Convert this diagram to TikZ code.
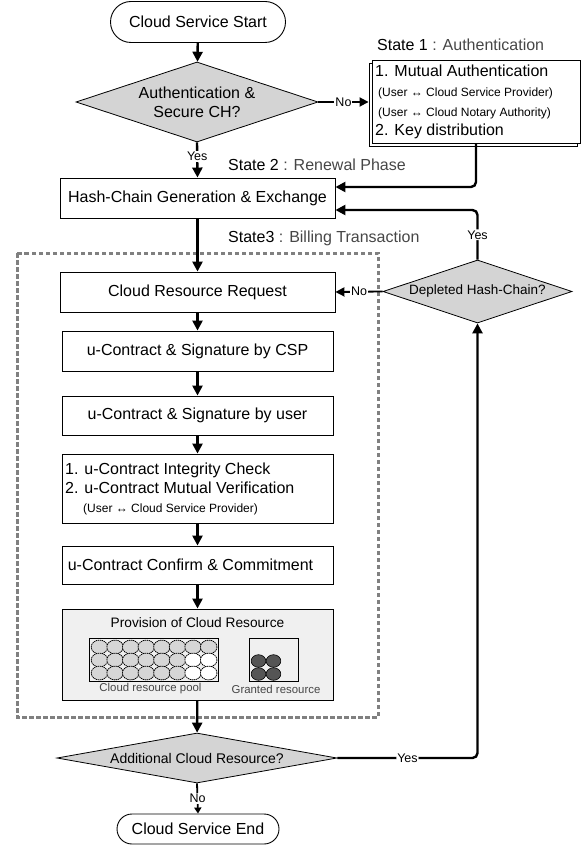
\documentclass[tikz,border=0pt]{standalone}
\usepackage{fontspec}
\setmainfont{Liberation Sans}
\usetikzlibrary{shapes.geometric,shapes.misc,arrows.meta}

\definecolor{decfill}{RGB}{212,212,212}
\definecolor{provfill}{RGB}{240,240,240}
\definecolor{cellgray}{RGB}{214,214,214}
\definecolor{granted}{RGB}{85,85,85}
\definecolor{billing}{RGB}{128,128,128}
\definecolor{phasegray}{RGB}{70,70,70}

\newcommand{\fsz}[2]{\fontsize{#1}{#2}\selectfont}

\tikzset{
  box/.style={draw, line width=0.9pt, minimum width=271, minimum height=40,
    inner sep=2pt, font=\fsz{16}{19}},
  term/.style={draw, rounded rectangle, line width=0.9pt, inner sep=2pt, font=\fsz{16}{19}},
  decision/.style={draw, diamond, fill=decfill, line width=0.8pt, inner sep=0pt, align=center},
  flow/.style={line width=2.4pt, -{Triangle[length=10pt,width=10pt]}},
  flowthin/.style={line width=1.8pt, -{Triangle[length=9pt,width=9pt]}},
  flowsmall/.style={line width=1.8pt, -{Triangle[length=6pt,width=7pt]}},
  lbl/.style={fill=white, inner sep=1pt, font=\fsz{12.5}{14}},
  phase/.style={anchor=west, inner sep=0pt, font=\fsz{16}{19}},
  txt/.style={anchor=west, inner sep=0pt, font=\fsz{16}{19}},
  smalltxt/.style={anchor=west, inner sep=0pt, font=\fsz{12}{14}},
  cell/.style={draw, line width=0.8pt, dash pattern=on 1.3pt off 0.7pt},
  grantcell/.style={draw, line width=0.6pt, fill=granted},
  caption/.style={inner sep=0pt, text=phasegray, font=\fsz{11.4}{13}},
}

\begin{document}
\begin{tikzpicture}[x=1pt, y=-1pt]
\useasboundingbox (0,0) rectangle (581,845);

% billing transaction frame
\draw[billing, line width=3pt, dash pattern=on 4.5pt off 2.5pt]
  (17,253) rectangle (378,717);

% terminators and decisions
\node[term, minimum width=179, minimum height=41] (start) at (198,22) {Cloud Service Start};
\node[decision, shape aspect=3.025, minimum width=242, minimum height=80, font=\fsz{16}{19}]
  (auth) at (197,102) {Authentication \&\\Secure CH?};

% state 1 box with offset outline
\node[draw, fill=white, line width=0.9pt, minimum width=208, minimum height=83, inner sep=0pt]
  (s1shadow) at (473,104.5) {};
\node[draw, fill=white, line width=0.9pt, minimum width=208, minimum height=83, inner sep=0pt]
  (s1) at (476,101.5) {};
\node[txt] (s1a) at (375,71) {1. Mutual Authentication};
\node[smalltxt] (s1b) at (378,93) {(User ↔ Cloud Service Provider)};
\node[smalltxt] (s1c) at (378,113) {(User ↔ Cloud Notary Authority)};
\node[txt] (s1d) at (375,131) {2. Key distribution};

% phase titles
\node[phase] (t1) at (377,45) {State 1 \textcolor{phasegray}{: Authentication}};
\node[phase] (t2) at (228,165) {State 2 \textcolor{phasegray}{: Renewal Phase}};
\node[phase] (t3) at (228,238) {State3 \textcolor{phasegray}{: Billing Transaction}};

% process boxes
\node[box, minimum width=275] (hash) at (197.5,198) {Hash-Chain Generation \& Exchange};
\node[box, minimum width=275] (crr) at (197.5,292) {Cloud Resource Request};
\node[box] (csp) at (197.5,351) {u-Contract \& Signature by CSP};
\node[box, minimum height=39] (usr) at (197.5,415.5) {u-Contract \& Signature by user};
\node[box, minimum height=69] (integ) at (197.5,488.5) {};
\node[txt] (ia) at (65,470) {1. u-Contract Integrity Check};
\node[txt] (ib) at (65,488) {2. u-Contract Mutual Verification};
\node[smalltxt] (ic) at (83,509) {(User ↔ Cloud Service Provider)};
\node[box, minimum height=38] (confirm) at (197.5,565) {\hspace*{-14pt}u-Contract Confirm \& Commitment};

% provisioning of resources
\node[box, minimum height=91, fill=provfill] (prov) at (197.5,654.5) {};
\node[inner sep=0pt, font=\fsz{13.7}{16}] (provtitle) at (197.5,623) {Provision of Cloud Resource};
\node[draw, line width=0.8pt, minimum width=129, minimum height=43, inner sep=0pt] (pool) at (153.5,659.5) {};
\node[draw, line width=0.8pt, minimum width=49, minimum height=43, inner sep=0pt] (grant) at (273.5,659.5) {};
\foreach \r in {0,1,2}{
  \foreach \c in {0,...,7}{
    \def\cellfill{cellgray}
    \ifnum\r>0 \ifnum\c>5 \def\cellfill{white}\fi\fi
    \draw[cell, fill=\cellfill] (99.5+15.6*\c, 647+13*\r) ellipse [x radius=8.3, y radius=6.9];
  }
}
\foreach \gx in {258.5,273.5}{
  \foreach \gy in {661,674}{
    \draw[grantcell] (\gx,\gy) ellipse [x radius=7.3, y radius=6.3];
  }
}
\node[caption] (poolcap) at (150.5,688.5) {Cloud resource pool};
\node[caption] (grantcap) at (276,689.5) {Granted resource};

\node[decision, shape aspect=3, minimum width=189, minimum height=63, font=\fsz{13.5}{16}]
  (dep) at (477.5,291.5) {Depleted Hash-Chain?};
\node[decision, shape aspect=5.6, minimum width=280, minimum height=50, font=\fsz{14}{16}]
  (add) at (197,758) {Additional Cloud Resource?};
\node[term, minimum width=166, minimum height=30] (end) at (198,829) {Cloud Service End};

% connectors
\draw[flow] (start) -- (auth);
\draw[flow] (auth.south) -- node[lbl, pos=0.4] (yes1) {Yes} (hash.north);
\draw[flowthin] (auth.east) -- node[lbl] (no1) {No} (auth.east -| s1shadow.west);
\draw[flow, rounded corners=5pt] (s1.south) |- ([yshift=11pt]hash.east);
\draw[flow, rounded corners=5pt] (dep.north) |- node[lbl, pos=0.25] (yes2) {Yes} ([yshift=-12pt]hash.east);
\draw[flow] (hash) -- (crr);
\draw[flowthin] (dep.west) -- node[lbl] (no2) {No} (crr.east);
\draw[flow] (crr) -- (csp);
\draw[flow] (csp) -- (usr);
\draw[flow] (usr) -- (integ);
\draw[flow] (integ) -- (confirm);
\draw[flow] (confirm) -- (prov);
\draw[flow] (prov) -- (add);
\draw[flow, rounded corners=5pt] (add.east) -| node[lbl, pos=0.25] (yes3) {Yes} (dep.south);
\draw[flowsmall] (add.south) -- node[lbl, pos=0.5] (no3) {No} (end.north);
\end{tikzpicture}
\end{document}
